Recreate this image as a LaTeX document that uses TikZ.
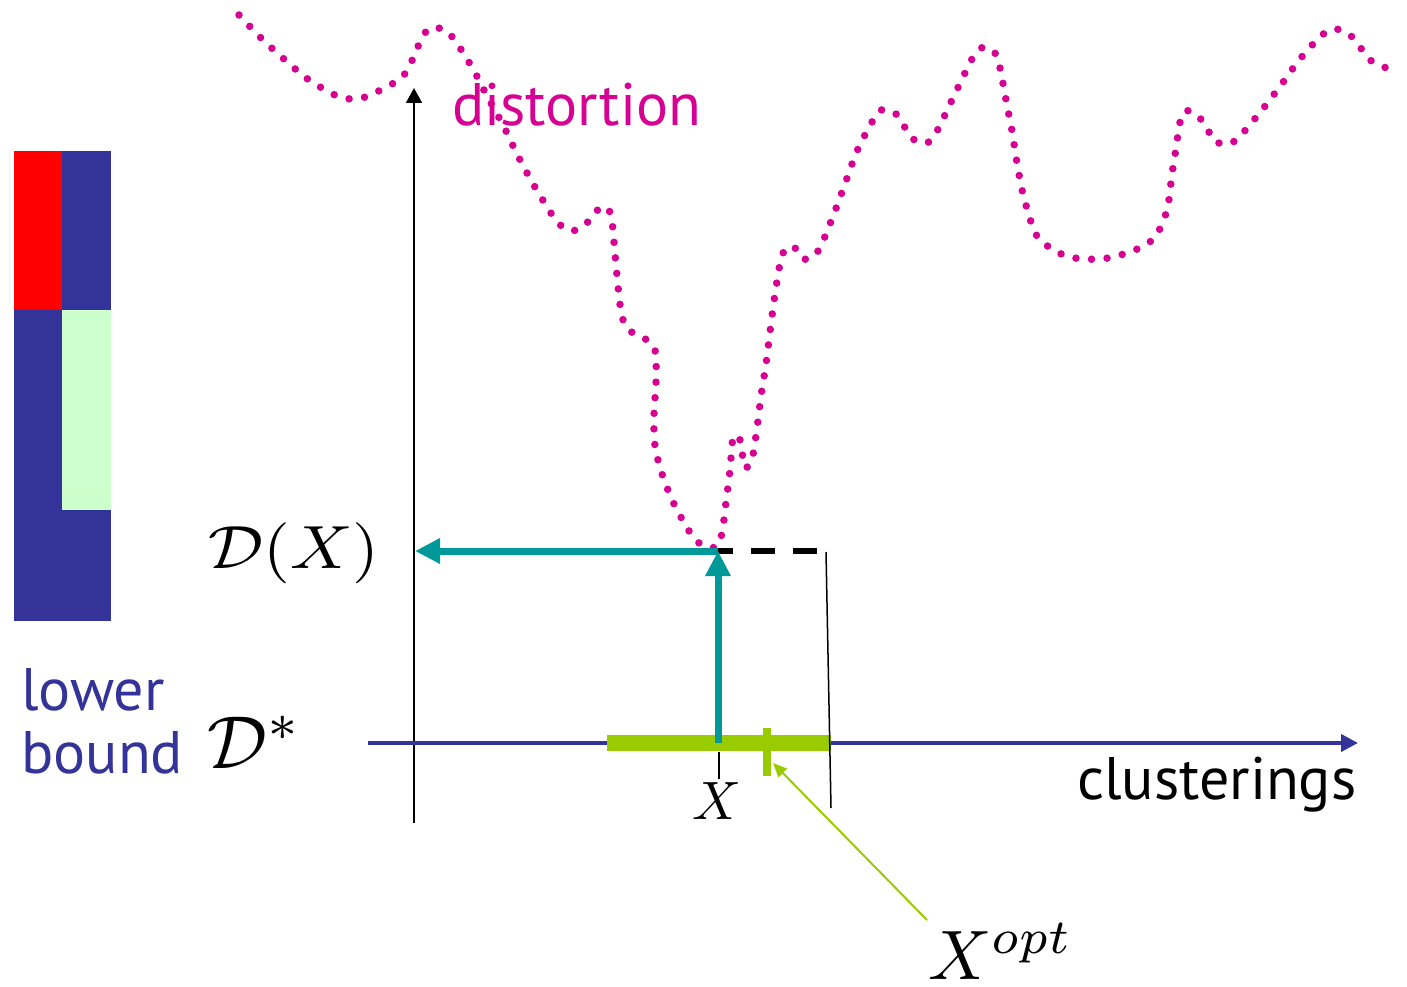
\documentclass[tikz,border=0pt]{standalone}
\usepackage{graphicx}
\usepackage{fontspec}
\newfontfamily\labelfont{PT Sans}
\usetikzlibrary{arrows.meta,positioning}

\definecolor{distpink}{RGB}{214,0,147}
\definecolor{axisblue}{RGB}{51,51,153}
\definecolor{projteal}{RGB}{0,153,153}
\definecolor{rangegreen}{RGB}{153,204,0}
\definecolor{palegreen}{RGB}{204,255,204}
\definecolor{barred}{RGB}{255,0,0}

\begin{document}
\begin{tikzpicture}[x=1pt,y=-1pt,
word/.style={font=\labelfont\fontsize{60}{64}\selectfont,inner sep=0pt,anchor=base west},
formula/.style={inner sep=0pt,anchor=base west},
tealarrow/.style={projteal,line width=7pt,-{Triangle[length=25pt,width=24pt]}},
distcurve/.style={distpink,line width=7.5pt,line cap=round,dash pattern=on 0pt off 15.6pt}
]
\useasboundingbox (0,0) rectangle (1407,987);
% colour bar
\fill[barred] (14,151) rectangle (62,310);
\fill[axisblue] (62,151) rectangle (111,310);
\fill[axisblue] (14,310) rectangle (62,510);
\fill[palegreen] (62,310) rectangle (111,510);
\fill[axisblue] (14,510) rectangle (111,621);
% axes
\coordinate (yfoot) at (414,823);
\coordinate (ytop) at (414,88);
\coordinate (xstart) at (368,743);
\coordinate (xend) at (1358,743);
\draw[line width=2pt,-{Triangle[length=15pt,width=16pt]}] (yfoot) -- (ytop);
\draw[axisblue,line width=4pt,-{Triangle[length=17pt,width=17pt]}] (xstart) -- (xend);
% range of clusterings
\coordinate (rangeL) at (607,743);
\coordinate (rangeR) at (831,743);
\draw[rangegreen,line width=16pt] (rangeL) -- (rangeR);
\coordinate (optT) at (767,728);
\coordinate (optB) at (767,776);
\draw[rangegreen,line width=8pt] (optT) -- (optB);
\coordinate (xtickT) at (719,752);
\coordinate (xtickB) at (719,779);
\draw[line width=2pt] (xtickT) -- (xtickB);
\coordinate (rimT) at (826,552);
\coordinate (rimB) at (831,808);
\draw[line width=1.5pt] (rimT) -- (rimB);
% distortion curve
\draw[distcurve] plot[smooth] coordinates {(239,15) (261,38) (285,60) (309,80) (337,96) (353,99) (368,96)
 (397,81) (408,69) (421,40) (430,28) (445,30) (456,42) (473,69) (487,96) (503,125) (517,154) (532,182)
 (549,210) (558,223) (571,231) (585,225) (595,212) (607,207) (612,222) (615,254) (618,286) (622,317)
 (630,331) (644,338) (655,350) (656,382) (654,414) (655,446) (663,477) (675,506) (691,534) (702,545)
 (716,547) (722,533) (726,502) (730,470) (733,438) (739,437) (742,452) (745,468) (752,459) (757,428)
 (761,396) (766,364) (770,332) (774,301) (779,269) (783,253) (793,246) (803,259) (815,255) (823,241)
 (835,211) (846,181) (857,151) (872,122) (881,110) (895,113) (904,126) (913,139) (927,143) (937,131)
 (951,102) (965,73) (972,59) (983,47) (995,53) (1000,68) (1006,100) (1012,131) (1017,163) (1023,194)
 (1032,225) (1039,239) (1052,249) (1066,256) (1082,259) (1098,259) (1114,257) (1129,252) (1144,246)
 (1156,236) (1163,221) (1168,206) (1172,174) (1177,142) (1179,126) (1185,111) (1197,115) (1207,128)
 (1214,141) (1229,144) (1241,135) (1262,110) (1281,85) (1300,59) (1322,35) (1336,29) (1350,35)
 (1360,47) (1370,60) (1384,67) (1399,73)};
% projection of X
\coordinate (xsel) at (718,743);
\coordinate (dsel) at (718,551);
\coordinate (dval) at (415,551);
\coordinate (dashend) at (822,551);
\draw[line width=6pt,dash pattern=on 24pt off 18pt,dash phase=9pt] (dsel) -- (dashend);
\draw[tealarrow] (dsel) -- (dval);
\draw[tealarrow] (xsel) -- (dsel);
% labels
\node[word,text=distpink] (distlab) at (452,126) {distortion};
\node[word] (clustlab) at (1077,799) {clusterings};
\node[word,text=axisblue] (lowerlab) at (21,710) {lower};
\node[word,text=axisblue] (boundlab) at ([yshift=-63pt]lowerlab.base west) {bound};
\node[formula] (dstar) at (207,768) {\scalebox{7.5}{$\mathcal{D}^*$}};
\node[formula] (dxlab) at (208,568) {\scalebox{6.9}[6.1]{$\mathcal{D}(X)$}};
\node[formula,anchor=base] (xlab) at (717,819) {\scalebox{5.4}{$X$}};
\node[formula] (xoptlab) at (928,979) {\scalebox{7}{$X^{opt}$}};
\coordinate (optfrom) at (927,920);
\coordinate (optto) at (773,763);
\draw[rangegreen,line width=2pt,-{Triangle[length=14pt,width=12pt]}] (optfrom) -- (optto);
\end{tikzpicture}
\end{document}
